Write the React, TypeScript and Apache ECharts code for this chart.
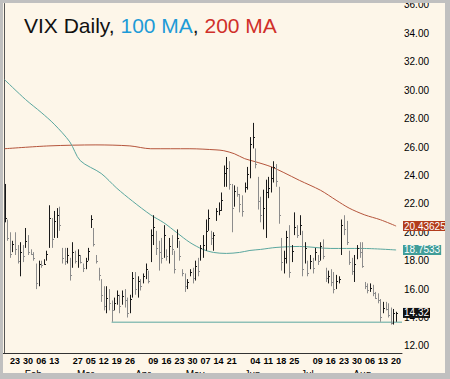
import React, { useEffect, useRef } from 'react';
import * as echarts from 'echarts';

// Trading days shown (2012)
const dates: string[] = [
  '01-17','01-18','01-19','01-20','01-23','01-24','01-25','01-26','01-27','01-30','01-31',
  '02-01','02-02','02-03','02-06','02-07','02-08','02-09','02-10','02-13','02-14','02-15','02-16','02-17','02-21','02-22','02-23','02-24','02-27','02-28','02-29',
  '03-01','03-02','03-05','03-06','03-07','03-08','03-09','03-12','03-13','03-14','03-15','03-16','03-19','03-20','03-21','03-22','03-23','03-26','03-27','03-28','03-29','03-30',
  '04-02','04-03','04-04','04-05','04-09','04-10','04-11','04-12','04-13','04-16','04-17','04-18','04-19','04-20','04-23','04-24','04-25','04-26','04-27','04-30',
  '05-01','05-02','05-03','05-04','05-07','05-08','05-09','05-10','05-11','05-14','05-15','05-16','05-17','05-18','05-21','05-22','05-23','05-24','05-25','05-29','05-30','05-31',
  '06-01','06-04','06-05','06-06','06-07','06-08','06-11','06-12','06-13','06-14','06-15','06-18','06-19','06-20','06-21','06-22','06-25','06-26','06-27','06-28','06-29',
  '07-02','07-03','07-05','07-06','07-09','07-10','07-11','07-12','07-13','07-16','07-17','07-18','07-19','07-20','07-23','07-24','07-25','07-26','07-27','07-30','07-31',
  '08-01','08-02','08-03','08-06','08-07','08-08','08-09','08-10','08-13','08-14','08-15','08-16','08-17','08-20',
];

const high: number[] = [
  23.4,20.9,20.0,19.4,20.0,19.1,19.3,19.1,20.3,19.8,18.8,
  18.6,17.8,18.0,18.0,18.1,18.7,21.9,21.0,21.5,21.7,21.8,18.9,18.9,18.9,18.2,19.3,18.7,18.8,18.4,17.8,
  18.2,18.9,21.2,20.3,18.4,17.5,16.7,16.2,16.2,16.0,15.2,15.4,15.9,15.6,15.9,16.0,15.4,15.6,17.2,17.2,16.9,16.7,
  17.1,17.8,17.3,20.2,21.2,20.1,19.4,19.6,20.5,18.8,19.6,19.8,18.7,20.2,19.4,17.4,17.1,16.7,17.4,17.5,
  18.0,18.2,19.1,19.8,20.9,21.6,20.1,20.0,21.7,22.1,22.8,24.7,25.3,25.0,23.4,23.3,23.2,22.7,22.6,23.5,24.6,26.7,
  27.7,25.9,23.9,22.5,23.0,23.7,23.9,24.6,25.0,24.8,23.2,19.6,18.7,20.1,20.5,19.1,21.4,20.5,21.2,20.1,19.3,
  18.0,18.4,18.2,18.9,18.4,19.3,19.5,17.5,17.3,17.4,17.2,17.0,16.9,20.9,21.2,20.8,18.7,18.2,18.4,19.1,19.3,
  19.3,16.5,16.4,16.4,16.3,15.8,15.7,15.3,15.1,15.1,15.0,14.7,14.6,14.4,
];

const low: number[] = [
  20.7,19.4,18.2,18.6,18.4,17.8,16.9,17.9,18.9,18.4,18.4,
  18.0,16.0,16.2,17.5,17.7,18.0,18.9,18.9,19.6,19.6,20.1,17.8,17.7,17.8,16.6,17.5,17.8,17.5,17.8,17.2,
  17.4,18.0,20.3,19.0,17.8,16.6,15.1,14.5,14.3,14.5,13.7,14.5,14.9,14.3,14.9,14.7,14.0,14.3,15.4,15.6,15.4,15.9,
  16.4,16.7,16.4,17.9,19.1,18.4,17.3,17.8,18.2,18.0,17.8,18.4,17.1,18.9,18.0,16.9,15.8,16.0,16.9,16.4,
  16.6,16.9,18.0,18.2,18.7,20.1,19.1,18.7,20.8,21.2,21.5,23.2,23.2,23.0,20.0,21.8,22.5,21.4,21.1,22.8,23.0,23.8,
  25.9,24.5,21.6,20.7,20.2,19.6,22.4,22.8,23.5,23.2,20.6,17.3,17.1,17.8,16.8,17.9,19.8,19.6,19.8,16.9,17.8,
  16.9,17.4,17.1,18.0,17.7,18.0,18.1,16.5,16.4,16.2,15.7,16.0,16.4,18.4,19.8,19.1,17.7,17.0,16.5,18.1,18.2,
  17.5,16.0,15.7,15.8,15.5,15.3,15.0,13.7,14.3,14.5,14.0,13.5,13.5,13.7,
];

const close: number[] = [
  21.0,19.6,18.5,19.2,18.8,18.0,18.6,18.3,19.4,18.6,18.5,
  18.2,16.4,17.8,17.7,17.8,18.5,21.0,19.5,20.8,21.2,20.5,18.2,18.0,18.4,17.0,18.6,18.0,18.4,17.9,17.5,
  18.0,18.7,20.9,19.2,18.0,17.0,15.6,14.8,15.4,15.0,14.5,15.0,15.6,14.8,15.5,15.2,14.3,15.3,16.8,16.0,16.6,16.2,
  16.9,17.4,16.6,19.8,20.4,18.9,18.6,18.2,19.8,18.3,19.0,18.8,17.4,19.6,18.3,17.1,16.2,16.5,17.2,16.8,
  17.6,17.3,18.9,19.1,20.1,21.0,19.6,19.8,21.5,21.6,22.3,24.2,24.5,23.4,21.7,22.9,22.7,22.0,21.5,23.2,24.1,26.2,
  26.7,24.8,22.2,21.2,21.7,22.8,23.1,23.8,24.6,23.6,21.2,17.9,18.2,19.7,17.2,18.7,20.4,19.8,20.5,17.4,18.9,
  17.1,18.0,17.5,18.6,18.0,19.0,18.3,16.8,16.9,16.5,16.0,16.6,16.7,20.5,20.2,19.3,17.9,17.3,17.8,18.9,18.6,
  17.6,16.2,15.9,16.1,15.7,15.4,15.2,14.0,14.7,14.6,14.2,13.6,14.3,14.32,
];

// Moving averages sampled at bar indices
const ma100Bar: number[] = [0, 8, 14, 19, 25, 29, 37, 43, 49, 56, 61, 66, 71, 76, 80, 85, 90, 94, 98, 104, 113, 125, 137, 150];
const ma100Val: number[] = [30.74, 29.35, 28.44, 27.61, 26.36, 25.04, 24.14, 23.1, 22.19, 21.22, 20.67, 19.97, 19.28, 18.79, 18.58, 18.51, 18.58, 18.72, 18.79, 18.93, 19.0, 18.86, 18.86, 18.7533];
const ma200Bar: number[] = [0, 17, 35, 48, 56, 71, 81, 84, 88, 92, 96, 102, 107, 113, 121, 127, 132, 138, 144, 150];
const ma200Val: number[] = [25.88, 26.08, 26.15, 26.08, 25.88, 25.88, 25.8, 25.74, 25.53, 25.18, 24.97, 24.62, 24.2, 23.65, 22.96, 22.26, 21.7, 21.22, 20.88, 20.43625];

const supportStartDate = '03-15';
const supportLevel = 13.67;

const dayTickDates: string[] = [
  '01-23','01-30','02-06','02-13','02-27','03-05','03-12','03-19','03-26',
  '04-09','04-16','04-23','04-30','05-07','05-14','05-21','06-04','06-11','06-18','06-25',
  '07-09','07-16','07-23','07-30','08-06','08-13','08-20',
];
const monthStartDates: string[] = ['02-01', '03-01', '04-02', '05-01', '06-01', '07-02', '08-01'];
const monthNames: string[] = ['Feb', 'Mar', 'Apr', 'May', 'Jun', 'Jul', 'Aug'];
const yTicks: number[] = [12, 14, 16, 18, 20, 22, 24, 26, 28, 30, 32, 34, 36];

const FONT = '"Liberation Sans", Arial, sans-serif';
const Y_MIN = 11.5;
const Y_MAX = 36.1;
const X_MIN = -0.61;
const X_MAX = 152.26;

export default function App() {
  const ref = useRef<HTMLDivElement>(null);
  useEffect(() => {
    if (!ref.current) return;
    const chart = echarts.init(ref.current, null, { renderer: 'svg' });
    const idx = (d: string) => dates.indexOf(d);
    const barData = dates.map((_, i) => [i, high[i], low[i], close[i], i > 0 ? close[i - 1] : close[i]]);
    const ma100 = ma100Bar.map((b, k) => [b, ma100Val[k]]);
    const ma200 = ma200Bar.map((b, k) => [b, ma200Val[k]]);
    const lastClose = close[close.length - 1];
    const last100 = ma100Val[ma100Val.length - 1];
    const last200 = ma200Val[ma200Val.length - 1];

    const tagAxis = (value: number, bg: string) => ({
      type: 'value', position: 'right', min: Y_MIN, max: Y_MAX, z: 10,
      axisLine: { show: false }, axisTick: { show: false }, splitLine: { show: false },
      axisLabel: {
        customValues: [value], formatter: () => String(value), color: '#fff',
        backgroundColor: bg, padding: [1, 1, 0, 1], margin: 1, fontSize: 10, lineHeight: 9, fontFamily: FONT,
      },
    });

    chart.setOption({
      animation: false,
      backgroundColor: '#FDF6E9',
      grid: { left: 3, right: 48, top: 3, bottom: 22 },
      xAxis: [
        {
          type: 'value', min: X_MIN, max: X_MAX, position: 'bottom',
          axisLine: { show: true, lineStyle: { color: '#333', width: 1 } },
          axisTick: { show: false }, splitLine: { show: false },
          axisLabel: {
            customValues: dayTickDates.map(idx),
            formatter: (v: number) => dates[Math.round(v)].slice(3),
            color: '#000', fontSize: 9, fontWeight: 'bold', margin: 3, fontFamily: FONT,
          },
        },
        {
          type: 'value', min: X_MIN, max: X_MAX, position: 'bottom',
          axisLine: { show: false }, axisTick: { show: false }, splitLine: { show: false },
          axisLabel: {
            customValues: monthStartDates.map(idx),
            formatter: (v: number) => monthNames[monthStartDates.indexOf(dates[Math.round(v)])],
            color: '#000', fontSize: 10, margin: 16, fontFamily: FONT,
          },
        },
      ],
      yAxis: [
        {
          type: 'value', position: 'right', min: Y_MIN, max: Y_MAX,
          axisLine: { show: true, lineStyle: { color: '#555', width: 1 } },
          axisTick: { show: false }, splitLine: { show: false },
          axisLabel: {
            customValues: yTicks, formatter: (v: number) => v.toFixed(2),
            color: '#000', fontSize: 10, margin: 2, fontFamily: FONT,
          },
        },
        tagAxis(last200, '#B23C1C'),
        tagAxis(last100, '#419D98'),
        tagAxis(lastClose, '#111'),
      ],
      series: [
        {
          type: 'line', data: ma200, symbol: 'none', xAxisIndex: 0, yAxisIndex: 0, smooth: 0.3,
          lineStyle: { color: '#B5553C', width: 1 }, z: 2,
        },
        {
          type: 'line', data: ma100, symbol: 'none', xAxisIndex: 0, yAxisIndex: 0, smooth: 0.3,
          lineStyle: { color: '#5AA79F', width: 1 }, z: 2,
        },
        {
          type: 'line', data: [[idx(supportStartDate), supportLevel], [X_MAX, supportLevel]],
          symbol: 'none', xAxisIndex: 0, yAxisIndex: 0,
          lineStyle: { color: '#5AA79F', width: 1 }, z: 2,
        },
        {
          type: 'custom', xAxisIndex: 0, yAxisIndex: 0, z: 3,
          encode: { x: 0, y: [1, 2, 3] },
          data: barData,
          renderItem: (params: any, api: any) => {
            const i = api.value(0);
            const h = api.value(1), l = api.value(2), c = api.value(3), pc = api.value(4);
            const top = api.coord([i, h]);
            const bot = api.coord([i, l]);
            const cl = api.coord([i, c]);
            const x = Math.round(top[0]) + 0.5;
            const color = c >= pc ? '#1a1a1a' : '#8c8c8c';
            const cy = Math.round(cl[1]) + 0.5;
            return {
              type: 'group',
              children: [
                { type: 'line', shape: { x1: x, y1: top[1], x2: x, y2: bot[1] }, style: { stroke: color, lineWidth: 1 } },
                { type: 'line', shape: { x1: x, y1: cy, x2: x + 1.5, y2: cy }, style: { stroke: color, lineWidth: 1 } },
              ],
            };
          },
        },
      ],
      graphic: [
        {
          type: 'text', x: 24, y: 25, z: 50,
          style: {
            text: '{k|VIX Daily, }{b|100 MA}{k|, }{r|200 MA}',
            verticalAlign: 'middle',
            rich: {
              k: { fill: '#111', fontSize: 21, fontFamily: FONT },
              b: { fill: '#1E9BD7', fontSize: 21, fontFamily: FONT },
              r: { fill: '#D0302A', fontSize: 21, fontFamily: FONT },
            },
          },
        },
        { type: 'rect', z: 100, shape: { x: 0, y: 0, width: 450, height: 3 }, style: { fill: '#C0C0C0' } },
        { type: 'rect', z: 100, shape: { x: 0, y: 0, width: 3, height: 379 }, style: { fill: '#C0C0C0' } },
        { type: 'rect', z: 100, shape: { x: 445, y: 0, width: 5, height: 379 }, style: { fill: '#C0C0C0' } },
        { type: 'rect', z: 100, shape: { x: 0, y: 373, width: 450, height: 6 }, style: { fill: '#C0C0C0' } },
      ],
    });
    return () => chart.dispose();
  }, []);
  return <div ref={ref} style={{ position: 'fixed', left: 0, top: 0, width: 450, height: 379 }} />;
}
